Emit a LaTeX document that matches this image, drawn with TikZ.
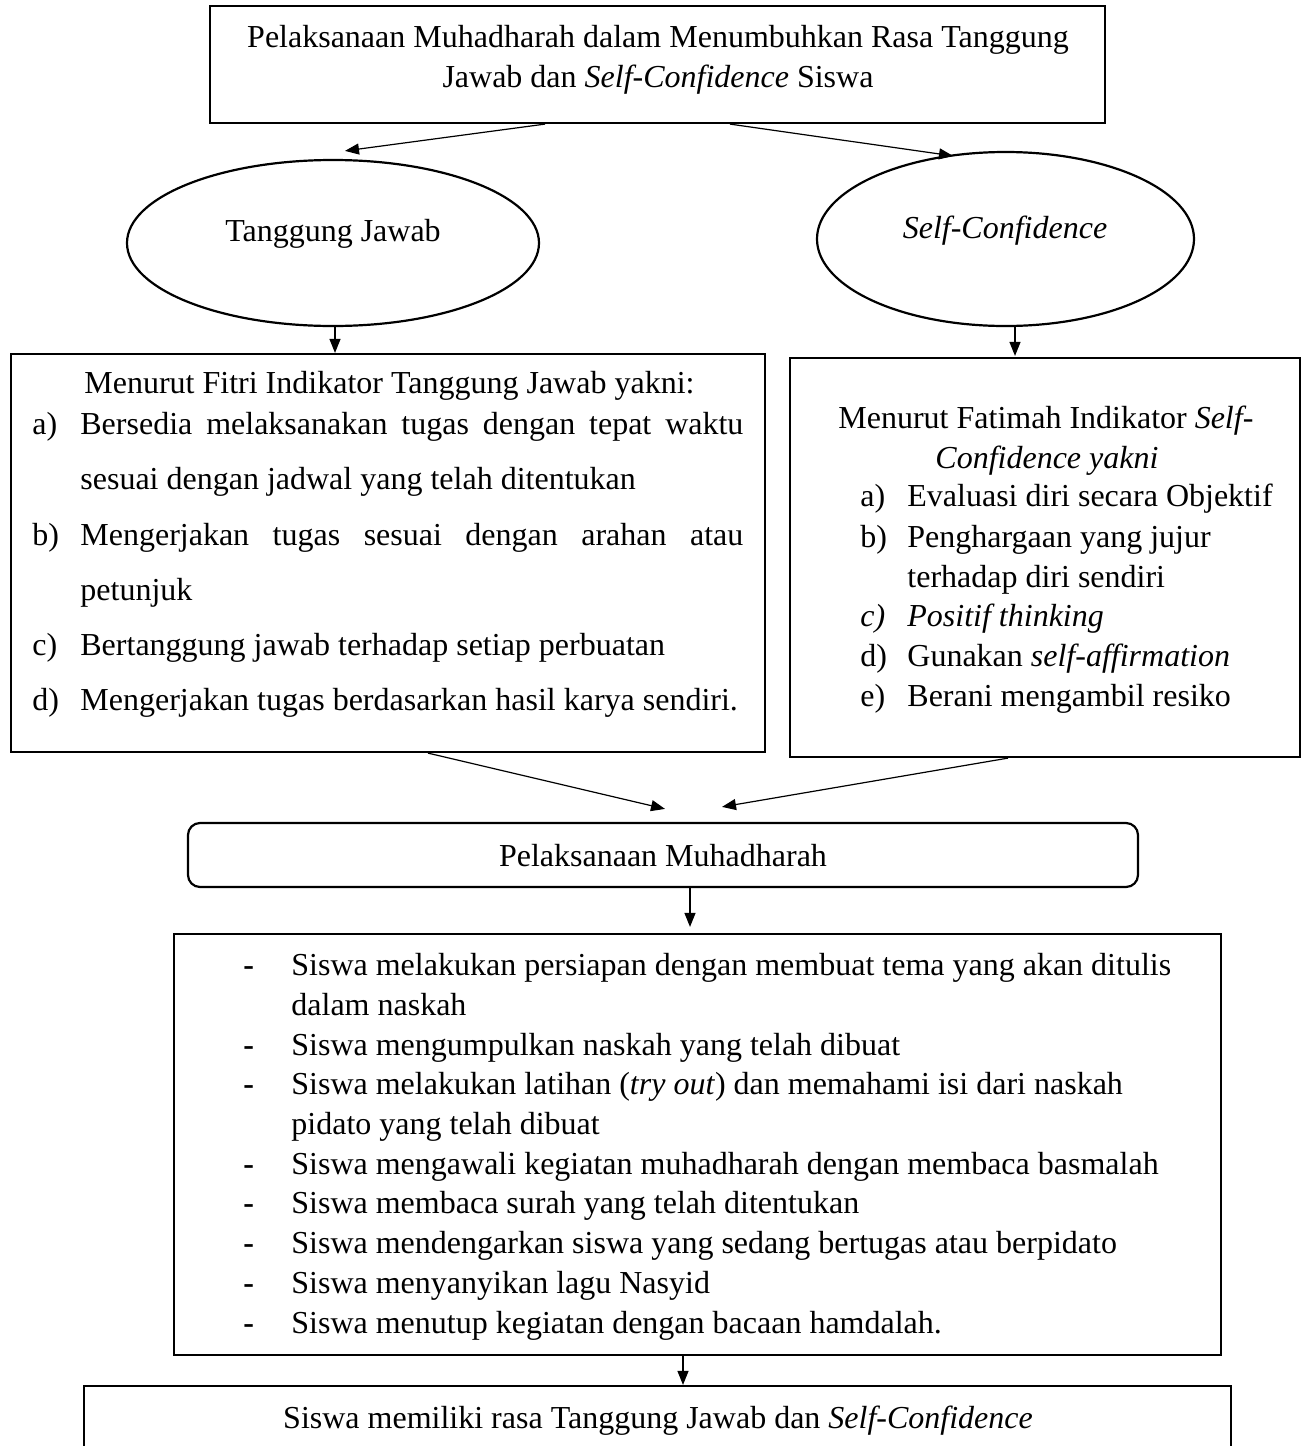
\documentclass[tikz,border=0pt]{standalone}
\usepackage{fontspec}
\setmainfont{Liberation Serif}
\usetikzlibrary{shapes.geometric,arrows.meta,calc}
\begin{document}
\begin{tikzpicture}[x=0.5pt,y=-0.5pt,
  box/.style={draw,line width=1.1pt,rectangle,inner sep=0pt},
  ell/.style={draw,line width=1.1pt,ellipse,inner sep=0pt},
  txt/.style={inner sep=0pt,font=\fontsize{16pt}{20pt}\selectfont},
  arr/.style={-{Triangle[length=7pt,width=5.5pt]},line width=0.6pt}]
\useasboundingbox (0,0) rectangle (1306,1446);
\clip (0,0) rectangle (1306,1446);
\fill[white] (0,0) rectangle (1306,1446);
% shapes
\node[box,minimum width=447.5pt,minimum height=58.5pt] (top) at (657.5,64.5) {};
\node[ell,minimum width=206pt,minimum height=83pt] (lj) at (333,243) {};
\node[ell,minimum width=188.5pt,minimum height=87pt] (sc) at (1005.5,239) {};
\node[box,minimum width=377pt,minimum height=199pt] (lbox) at (388,553) {};
\node[box,minimum width=255pt,minimum height=199.5pt] (rbox) at (1045,557.5) {};
\node[box,rounded corners=6pt,minimum width=475pt,minimum height=32pt] (pm) at (663,855) {};
\node[box,minimum width=523.5pt,minimum height=210.5pt] (big) at (697.5,1144.5) {};
\node[box,minimum width=573.5pt,minimum height=50pt] (bot) at (657.5,1436) {};
% texts
\node[txt,anchor=base] (t1) at (658,47) {Pelaksanaan Muhadharah dalam Menumbuhkan Rasa Tanggung};
\node[txt,anchor=base] (t2) at (658,87) {Jawab dan \textit{Self-Confidence} Siswa};
\node[txt,anchor=base] (tlj) at (333,241) {Tanggung Jawab};
\node[txt,anchor=base] (tsc) at (1005,238) {\textit{Self-Confidence}};
% left box
\node[txt,anchor=base west] (lh) at (84,393) {Menurut Fitri Indikator Tanggung Jawab yakni:};
\node[txt,anchor=base west] (la) at (32,434) {a)};
\node[txt,anchor=base west] (la1) at (80,434) {\makebox[331.5pt][s]{Bersedia melaksanakan tugas dengan tepat waktu}};
\node[txt,anchor=base west] (la2) at (80,489) {sesuai dengan jadwal yang telah ditentukan};
\node[txt,anchor=base west] (lb) at (32,545) {b)};
\node[txt,anchor=base west] (lb1) at (80,545) {\makebox[331.5pt][s]{Mengerjakan tugas sesuai dengan arahan atau}};
\node[txt,anchor=base west] (lb2) at (80,600) {petunjuk};
\node[txt,anchor=base west] (lc) at (32,655) {c)};
\node[txt,anchor=base west] (lc1) at (80,655) {Bertanggung jawab terhadap setiap perbuatan};
\node[txt,anchor=base west] (ld) at (32,710) {d)};
\node[txt,anchor=base west] (ld1) at (80,710) {Mengerjakan tugas berdasarkan hasil karya sendiri.};
% right box
\node[txt,anchor=base west] (rh1) at (838,428) {Menurut Fatimah Indikator \textit{Self-}};
\node[txt,anchor=base west] (rh2) at (935,468) {\textit{Confidence yakni}};
\node[txt,anchor=base west] (ra) at (860,506) {a)};
\node[txt,anchor=base west] (ra1) at (907,506) {Evaluasi diri secara Objektif};
\node[txt,anchor=base west] (rb) at (860,547) {b)};
\node[txt,anchor=base west] (rb1) at (907,547) {Penghargaan yang jujur};
\node[txt,anchor=base west] (rb2) at (907,587) {terhadap diri sendiri};
\node[txt,anchor=base west] (rc) at (860,626) {\textit{c)}};
\node[txt,anchor=base west] (rc1) at (907,626) {\textit{Positif thinking}};
\node[txt,anchor=base west] (rd) at (860,666) {d)};
\node[txt,anchor=base west] (rd1) at (907,666) {Gunakan \textit{self-affirmation}};
\node[txt,anchor=base west] (re) at (860,706) {e)};
\node[txt,anchor=base west] (re1) at (907,706) {Berani mengambil resiko};
% rounded
\node[txt,anchor=base] (tpm) at (663,866) {Pelaksanaan Muhadharah};
% big box
\foreach \y/\nm in {975/d1,1055/d2,1094/d3,1174/d4,1213/d5,1253/d6,1293/d7,1333/d8}
  \node[txt,anchor=base west] (\nm) at (243,\y) {\textbf{-}};
\node[txt,anchor=base west] (s1) at (291,975) {Siswa melakukan persiapan dengan membuat tema yang akan ditulis};
\node[txt,anchor=base west] (s1b) at (291,1015) {dalam naskah};
\node[txt,anchor=base west] (s2) at (291,1055) {Siswa mengumpulkan naskah yang telah dibuat};
\node[txt,anchor=base west] (s3) at (291,1094) {Siswa melakukan latihan (\textit{try out}) dan memahami isi dari naskah};
\node[txt,anchor=base west] (s3b) at (291,1134) {pidato yang telah dibuat};
\node[txt,anchor=base west] (s4) at (291,1174) {Siswa mengawali kegiatan muhadharah dengan membaca basmalah};
\node[txt,anchor=base west] (s5) at (291,1213) {Siswa membaca surah yang telah ditentukan};
\node[txt,anchor=base west] (s6) at (291,1253) {Siswa mendengarkan siswa yang sedang bertugas atau berpidato};
\node[txt,anchor=base west] (s7) at (291,1293) {Siswa menyanyikan lagu Nasyid};
\node[txt,anchor=base west] (s8) at (291,1333) {Siswa menutup kegiatan dengan bacaan hamdalah.};
% bottom
\node[txt,anchor=base] (tbot) at (658,1428) {Siswa memiliki rasa Tanggung Jawab dan \textit{Self-Confidence}};
% arrows
\draw[arr] ($(top.south)+(-112.5,0)$) -- ($(lj.north)+(12,-8)$);
\draw[arr] ($(top.south)+(72.5,0)$) -- ($(sc.north)+(-52.5,5)$);
\draw[arr] ($(lj.south)+(2,0)$) -- ($(lbox.north)+(-53,0)$);
\draw[arr] ($(sc.south)+(9.5,0)$) -- ($(rbox.north)+(-30,-1)$);
\draw[arr] ($(lbox.south)+(40,0)$) -- ($(pm.north)+(2,-13)$);
\draw[arr] ($(rbox.south)+(-37,0)$) -- ($(pm.north)+(59,-15)$);
\draw[arr] ($(pm.south)+(27,0)$) -- ($(big.north)+(-7.5,-6)$);
\draw[arr] ($(big.south)+(-14.5,0)$) -- ($(bot.north)+(25.5,0)$);
\end{tikzpicture}
\end{document}
